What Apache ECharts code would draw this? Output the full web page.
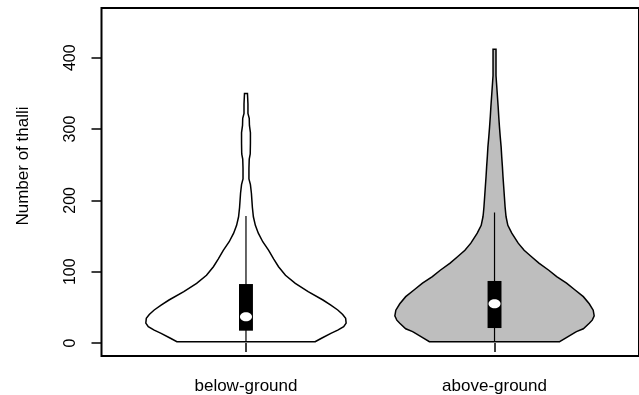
<!DOCTYPE html>
<html>
<head>
<meta charset="utf-8">
<script src="https://cdn.jsdelivr.net/npm/echarts@6/dist/echarts.min.js"></script>
<style>
  html, body { margin: 0; padding: 0; background: #fff; }
  #chart { width: 639px; height: 395px; }
</style>
</head>
<body>
<div id="chart"></div>
<script>
// ---- data ----
var categories = ['below-ground', 'above-ground'];
var yTicks = [0, 100, 200, 300, 400];

// violin outlines: value levels and relative density (half-width, max ~100)
var belowLevels = [1.8, 7, 13.6, 18, 22.9, 28, 34.6, 40, 46.3, 53, 60.3, 72, 83.7, 95, 107, 118, 130, 142, 154, 165, 177, 190, 200, 210, 222, 230, 245, 258, 265, 280, 295, 305, 315, 322, 335, 350];
var belowDensity = [70, 77, 86, 93, 99, 101.5, 101, 98, 93, 86, 78, 63, 50, 40, 33, 28, 23, 17, 12.5, 9.5, 7.5, 6.5, 6, 5.5, 4.5, 3, 3, 3.3, 4.3, 4.5, 4.5, 3.5, 3.3, 2, 2, 1.5];

var aboveLevels = [1.8, 7, 13.6, 16, 20, 27.6, 32, 38, 46, 55, 65, 75, 84, 93, 102, 112, 121, 130, 140, 154, 165, 177, 182, 191, 205, 219, 233, 247, 261, 275, 289, 303, 317, 331, 345, 359, 365, 375, 395, 411.7];
var aboveDensity = [66, 72, 80, 83, 90, 96, 99, 101, 100, 96, 90, 81, 73, 63, 55, 45, 37.5, 30, 24, 17.5, 13.5, 11.7, 11.3, 10.7, 10, 9.3, 8.6, 8, 7.3, 6.7, 5.8, 5, 4.3, 3.7, 3, 2.3, 2, 1.5, 1.5, 1.5];

// box statistics: [min, q1, median, q3, upper whisker]
var belowStats = [1.8, 17.3, 37, 82.7, 178];
var aboveStats = [1.8, 21, 55, 87, 183];

var violinFill = ['#ffffff', '#bebebe'];

// ---- chart ----
var levelsList = [belowLevels, aboveLevels];
var densityList = [belowDensity, aboveDensity];
var statsList = [belowStats, aboveStats];
var DENS_MAX = 101.5;
var HALF_W = 0.403;   // x-units for the widest point
var BOX_HALF = 0.028; // x-units

function renderViolin(params, api) {
  var i = params.dataIndex;
  var cx = api.value(0);
  var lv = levelsList[i], dn = densityList[i], st = statsList[i];
  var right = [], left = [];
  for (var k = 0; k < lv.length; k++) {
    var w = dn[k] / DENS_MAX * HALF_W;
    right.push(api.coord([cx + w, lv[k]]));
    left.unshift(api.coord([cx - w, lv[k]]));
  }
  var pts = right.concat(left);
  var wTop = api.coord([cx, st[4]]);
  var wBot = api.coord([cx, st[0]]);
  var bTL = api.coord([cx - BOX_HALF, st[3]]);
  var bBR = api.coord([cx + BOX_HALF, st[1]]);
  var med = api.coord([cx, st[2]]);
  return {
    type: 'group',
    children: [
      { type: 'polygon', shape: { points: pts },
        style: { fill: violinFill[i], stroke: '#000', lineWidth: 1.5 } },
      { type: 'line', shape: { x1: wTop[0], y1: wTop[1], x2: wBot[0], y2: wBot[1] },
        style: { stroke: '#000', lineWidth: 1.2 } },
      { type: 'rect', shape: { x: bTL[0], y: bTL[1], width: bBR[0] - bTL[0], height: bBR[1] - bTL[1] },
        style: { fill: '#000' } },
      { type: 'ellipse', shape: { cx: med[0], cy: med[1], rx: 6, ry: 4.5 },
        style: { fill: '#fff' } }
    ]
  };
}

var chart = echarts.init(document.getElementById('chart'), null, { renderer: 'canvas' });
var fontFam = 'Liberation Sans, Arial, sans-serif';
chart.setOption({
  animation: false,
  backgroundColor: '#fff',
  grid: { left: 101.5, right: -7.5, top: 8, bottom: 39, show: true, borderColor: '#000', borderWidth: 2, backgroundColor: 'transparent' },
  xAxis: {
    type: 'value', min: 0.4187, max: 2.5813,
    axisLine: { show: false },
    splitLine: { show: false },
    axisTick: { show: true, customValues: [1, 2], length: 9, lineStyle: { color: '#000', width: 1.5 } },
    axisLabel: { show: true, customValues: [1, 2], margin: 22, color: '#000', fontSize: 17, fontFamily: fontFam,
      formatter: function (v) { return categories[Math.round(v) - 1] || ''; } }
  },
  yAxis: {
    type: 'value', min: -18.2, max: 469.7,
    name: 'Number of thalli', nameLocation: 'middle', nameGap: 70, nameRotate: 90,
    nameTextStyle: { color: '#000', fontSize: 17, fontFamily: fontFam, padding: [0, 0, 0, 32] },
    axisLine: { show: false },
    splitLine: { show: false },
    axisTick: { show: true, customValues: yTicks, length: 10, lineStyle: { color: '#000', width: 1.5 } },
    axisLabel: { show: true, customValues: yTicks, rotate: 90, margin: 23, color: '#000', fontSize: 16, fontFamily: fontFam }
  },
  series: [{
    type: 'custom',
    renderItem: renderViolin,
    data: [[1], [2]],
    clip: true,
    z: 2
  }]
});
</script>
</body>
</html>
